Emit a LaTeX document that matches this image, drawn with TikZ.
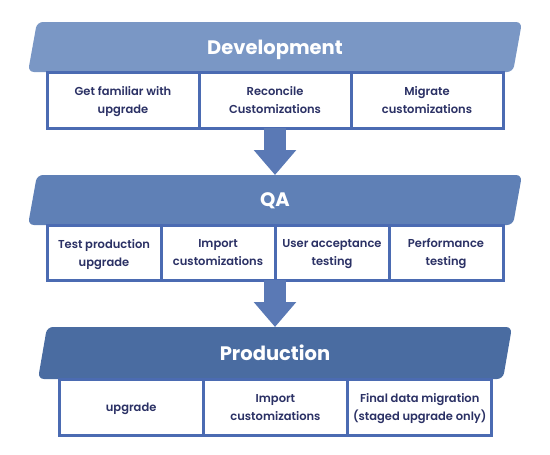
\documentclass[tikz,border=0pt]{standalone}
\usepackage{fontspec}
\setmainfont{Poppins}[BoldFont={* SemiBold}]
\newfontfamily\titlefont{Poppins}[UprightFont={* Bold}]
\usepackage{xcolor}
\usepackage{tikz}
\usetikzlibrary{arrows.meta, positioning, backgrounds}

\definecolor{devblue}{HTML}{7A97C5}
\definecolor{qablue}{HTML}{5F80B6}
\definecolor{prodblue}{HTML}{4A6CA1}
\definecolor{boxline}{HTML}{4B6BB2}
\definecolor{boxtext}{HTML}{2B3165}
\definecolor{arrowblue}{HTML}{5A79B5}

\begin{document}
\begin{tikzpicture}[x=1pt, y=-1pt, >=Stealth]

% --- Style Definitions ---
% Stage banners (text area; the slanted shape is filled behind it)
\tikzstyle{stage_banner}=[rectangle, inner sep=0pt, outer sep=0pt, minimum height=50pt, text depth=-1pt, text=white, font=\fontsize{19.5}{22}\titlefont]
\tikzstyle{banner_fill}=[rounded corners=6pt]
% Task boxes under each banner
\tikzstyle{task_box}=[rectangle, draw=boxline, line width=3pt, fill=white, minimum height=56pt, inner sep=2pt, outer sep=0pt, align=center, text depth=-8pt, text=boxtext, font=\fontsize{11.5}{18}\selectfont\bfseries]
% Block arrows between stages
\tikzstyle{flow_arrow}=[line width=22pt, arrowblue, line cap=butt, -{Triangle[width=41pt, length=25pt]}]

\useasboundingbox (0,0) rectangle (550,455);

% --- Development ---
\node[stage_banner, minimum width=494pt] (dev) at (275,47) {Development};
\node[task_box, minimum width=152pt, anchor=north west] (dev_a) at (47,72) {Get familiar with\\upgrade};
\node[task_box, minimum width=152pt, right=0pt of dev_a] (dev_b) {Reconcile\\Customizations};
\node[task_box, minimum width=152pt, right=0pt of dev_b] (dev_c) {Migrate\\customizations};

% --- QA ---
\node[stage_banner, minimum width=494pt] (qa) at (275,200) {QA};
\node[task_box, minimum width=114pt, minimum height=55pt, anchor=north west] (qa_a) at (47,225) {Test production\\upgrade};
\node[task_box, minimum width=114pt, minimum height=55pt, right=0pt of qa_a] (qa_b) {Import\\customizations};
\node[task_box, minimum width=114pt, minimum height=55pt, right=0pt of qa_b] (qa_c) {User acceptance\\testing};
\node[task_box, minimum width=114pt, minimum height=55pt, right=0pt of qa_c] (qa_d) {Performance\\testing};

% --- Production ---
\node[stage_banner, minimum width=474pt, minimum height=52pt] (prod) at (275,353) {Production};
\node[task_box, minimum width=144.3pt, text depth=0pt, anchor=north west] (prod_a) at (59,379) {upgrade};
\node[task_box, minimum width=144.3pt, right=0pt of prod_a] (prod_b) {Import\\customizations};
\node[task_box, minimum width=144.3pt, right=0pt of prod_b] (prod_c) {Final data migration\\(staged upgrade only)};

% --- Slanted banner shapes ---
\begin{scope}[on background layer]
\foreach \b/\c in {dev/devblue, qa/qablue, prod/prodblue}
  \fill[banner_fill, \c] (\b.south west) -- ([xshift=9pt]\b.north west) -- (\b.north east) -- ([xshift=-9pt]\b.south east) -- cycle;
\end{scope}

% --- Arrows between stages ---
\draw[flow_arrow] (dev_b.south) -- (qa.north);
\draw[flow_arrow] (qa_b.south east) -- (prod.north);

\end{tikzpicture}
\end{document}
